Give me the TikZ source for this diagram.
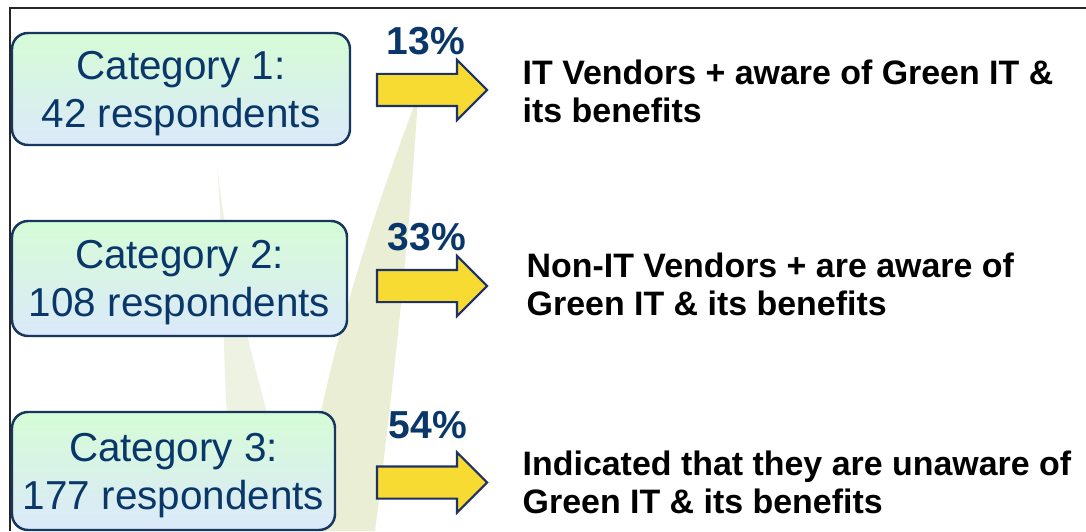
\documentclass[tikz,border=0pt]{standalone}
\usepackage{fontspec}
\setmainfont{Liberation Sans}
\usetikzlibrary{shapes.arrows}
\definecolor{navy}{RGB}{10,55,105}
\definecolor{boxline}{RGB}{23,55,94}
\definecolor{boxtop}{RGB}{214,252,214}
\definecolor{boxbot}{RGB}{219,233,250}
\definecolor{arrowyellow}{RGB}{247,218,50}
\definecolor{arrowline}{RGB}{30,50,100}
\definecolor{leafgreen}{RGB}{233,238,213}
\definecolor{leafpale}{RGB}{238,242,226}
\begin{document}
\begin{tikzpicture}[
  cat/.style={draw=boxline,line width=0.7pt,rounded corners=0.16cm,top color=boxtop,bottom color=boxbot,text=navy,align=center,inner sep=0pt,text depth=-0.055cm,font=\fontsize{11.5}{13.7}\selectfont},
  pct/.style={text=navy,inner sep=0pt,font=\fontsize{11.1}{13}\selectfont\bfseries},
  yarrow/.style={single arrow,draw=arrowline,fill=arrowyellow,line width=0.6pt,minimum height=1.10cm,inner sep=0.15cm,single arrow head extend=0.14cm,single arrow tip angle=90},
  desc/.style={anchor=west,align=left,inner sep=0pt,font=\fontsize{9.65}{10.8}\selectfont\bfseries}]
\useasboundingbox (0,0) rectangle (10.86,5.31);
\fill[white] (0,0) rectangle (10.86,5.31);

\fill[leafgreen] (4.18,4.36) .. controls (4.10,3.0) and (3.95,1.6) .. (3.75,0) -- (3.00,0) .. controls (3.25,1.8) and (3.75,3.2) .. cycle;
\fill[leafpale] (2.17,3.64) .. controls (2.30,2.6) and (2.50,1.8) .. (2.72,1.0) -- (2.28,1.0) .. controls (2.22,1.8) and (2.24,2.8) .. cycle;

\draw[line width=0.8pt,black!85] (0.10,0) |- (10.86,5.23);

\node[cat,minimum width=3.38cm,minimum height=1.12cm](C1) at (1.81,4.42){Category 1:\\42 respondents};
\node[yarrow](A1) at (4.24,4.41){};
\node[pct](P1) at (4.26,4.90){13\%};
\node[desc](T1) at (5.22,4.40){IT Vendors + aware of Green IT \&\\its benefits};

\node[cat,minimum width=3.35cm,minimum height=1.15cm](C2) at (1.795,2.525){Category 2:\\108 respondents};
\node[yarrow](A2) at (4.24,2.45){};
\node[pct](P2) at (4.27,2.94){33\%};
\node[desc](T2) at (5.26,2.47){Non-IT Vendors + are aware of\\Green IT \& its benefits};

\node[cat,minimum width=3.23cm,minimum height=1.18cm](C3) at (1.735,0.60){Category 3:\\177 respondents};
\node[yarrow](A3) at (4.24,0.485){};
\node[pct](P3) at (4.28,1.06){54\%};
\node[desc](T3) at (5.22,0.49){Indicated that they are unaware of\\Green IT \& its benefits};
\end{tikzpicture}
\end{document}
